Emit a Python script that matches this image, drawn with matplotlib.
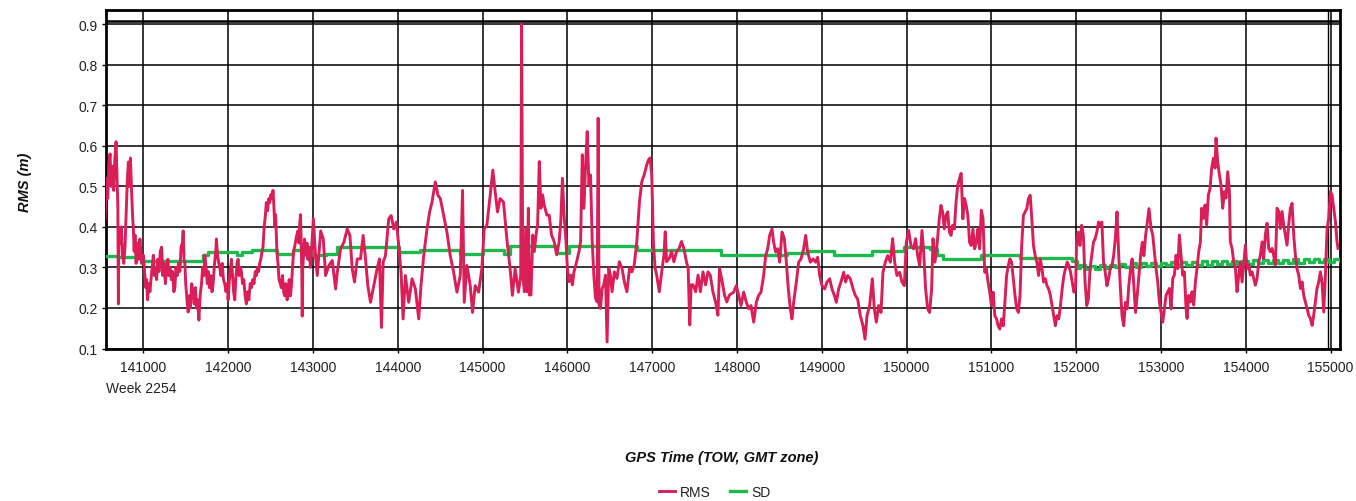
import matplotlib
matplotlib.use('Agg')
import matplotlib.pyplot as plt

plt.rcParams['font.family'] = ['Liberation Sans', 'DejaVu Sans']

# ---------------- data ----------------
rms_time = [
    140550, 140565, 140580, 140595, 140608, 140620, 140635, 140650, 140665, 140679,
    140690, 140700, 140706, 140712, 140725, 140740, 140755, 140770, 140784, 140800,
    140812, 140824, 140835, 140848, 140863, 140875, 140882, 140892, 140902, 140915,
    140930, 140945, 140960, 140980, 141000, 141015, 141030, 141039, 141050, 141065,
    141078, 141095, 141110, 141118, 141130, 141145, 141157, 141170, 141185, 141200,
    141216, 141230, 141245, 141260, 141274, 141290, 141300, 141314, 141330, 141345,
    141360, 141372, 141385, 141400, 141415, 141431, 141445, 141460, 141470, 141480,
    141490, 141500, 141515, 141529, 141540, 141555, 141570, 141588, 141600, 141615,
    141627, 141640, 141655, 141670, 141686, 141700, 141715, 141725, 141740, 141755,
    141764, 141780, 141795, 141810, 141823, 141840, 141855, 141862, 141875, 141890,
    141902, 141915, 141930, 141945, 141960, 141975, 141990, 142000, 142015, 142030,
    142039, 142055, 142065, 142078, 142090, 142105, 142118, 142130, 142145, 142156,
    142170, 142185, 142200, 142215, 142230, 142245, 142260, 142274, 142290, 142305,
    142320, 142333, 142345, 142360, 142372, 142385, 142400, 142411, 142425, 142440,
    142450, 142465, 142480, 142490, 142505, 142520, 142529, 142540, 142550, 142560,
    142575, 142588, 142600, 142615, 142627, 142640, 142655, 142666, 142680, 142695,
    142705, 142720, 142735, 142744, 142760, 142772, 142784, 142800, 142810, 142823,
    142835, 142845, 142854, 142862, 142868, 142874, 142880, 142895, 142901, 142915,
    142930, 142940, 142955, 142970, 142980,
    143005, 143030, 143051, 143091, 143122, 143149, 143189, 143228, 143267, 143287,
    143326, 143365, 143404, 143436, 143463, 143490, 143522, 143561, 143592, 143620,
    143647, 143679, 143718, 143757, 143784, 143808, 143828, 143855, 143894, 143922,
    143953, 143984, 144012, 144039, 144063, 144090, 144129, 144169, 144208, 144247,
    144274, 144306, 144345, 144376, 144404, 144443, 144474, 144502, 144541, 144580,
    144619, 144659, 144698, 144737, 144764, 144784, 144815, 144855, 144882, 144913,
    144953, 144992, 145019, 145051, 145090, 145121, 145149, 145176, 145207, 145247,
    145286, 145325, 145352, 145384, 145423, 145450, 145460,
    145474, 145493, 145513, 145524, 145540, 145552, 145571, 145591, 145610, 145630,
    145649, 145669, 145688, 145708, 145727, 145758, 145786, 145813, 145844, 145875,
    145903, 145922, 145942, 145961, 145984, 146000, 146020, 146039, 146059, 146078,
    146109, 146137, 146156, 146176, 146195, 146215, 146234, 146254, 146273, 146293,
    146312, 146332, 146351, 146363, 146374, 146390, 146410, 146429, 146449, 146468,
    146488, 146507, 146527, 146554, 146585, 146612, 146644, 146671, 146702, 146733,
    146761, 146788, 146819, 146850, 146878, 146905, 146936, 146956, 146975, 146995,
    147014, 147034, 147053, 147084, 147112, 147139, 147154, 147170, 147201, 147229,
    147256, 147287, 147318, 147346, 147373, 147404, 147424, 147443, 147459, 147482,
    147513, 147541, 147568, 147599, 147630, 147658, 147685, 147716, 147747, 147775,
    147794, 147825, 147853, 147880, 147911,
    147961, 147992, 148020, 148047, 148079, 148110, 148138, 148165, 148197, 148228,
    148255, 148283, 148314, 148338, 148362, 148385, 148413, 148432, 148456, 148479,
    148503, 148531, 148558, 148582, 148605, 148629, 148648, 148668, 148700, 148727,
    148755, 148786, 148810, 148833, 148865, 148896, 148927, 148951, 148975, 149002,
    149034, 149061, 149093, 149120, 149148, 149171, 149199, 149226, 149258, 149281,
    149305, 149336, 149368, 149395, 149423, 149454, 149486, 149509, 149533, 149564,
    149596, 149619, 149643, 149670, 149698, 149721, 149749, 149776, 149808, 149835,
    149859, 149886, 149918, 149945, 149973, 149996, 150024, 150051, 150083, 150106,
    150130, 150154, 150181, 150201, 150224, 150248, 150271, 150295, 150311, 150334,
    150358,
    150385, 150405, 150424, 150444, 150464, 150484, 150504, 150524, 150543, 150563,
    150583, 150603, 150623, 150643, 150663, 150682, 150702, 150722, 150742, 150762,
    150782, 150802, 150822, 150841, 150861, 150881, 150901, 150921, 150940, 150960,
    150980, 151000, 151020, 151040, 151060, 151079, 151099, 151119, 151139, 151159,
    151179, 151199, 151218, 151238, 151258, 151278, 151298, 151318, 151337, 151357,
    151377, 151397, 151417, 151437, 151457, 151476, 151496, 151516, 151536, 151556,
    151576, 151596, 151615, 151635, 151655, 151675, 151695, 151715, 151734, 151754,
    151774, 151794, 151814, 151834, 151854, 151873, 151893, 151913, 151933, 151953,
    151973, 151993, 152004, 152024, 152044, 152064, 152084, 152104, 152124, 152143,
    152163, 152183, 152203, 152223, 152243, 152263, 152282, 152302, 152322, 152342,
    152362, 152382, 152401, 152421, 152441, 152461, 152481, 152501, 152521, 152540,
    152560, 152580, 152600, 152620, 152640, 152659, 152679, 152699, 152719, 152739,
    152759, 152779, 152798, 152818, 152838, 152858,
    152882, 152902, 152921, 152941, 152961, 152980, 153000, 153020, 153039, 153059,
    153079, 153098, 153118, 153138, 153157, 153177, 153197, 153216, 153236, 153255,
    153275, 153295, 153307, 153326, 153346, 153365, 153385, 153405, 153424, 153444,
    153464, 153479, 153499, 153519, 153538, 153558, 153578, 153597, 153617, 153637,
    153648, 153668, 153688, 153707, 153727, 153747, 153766, 153786, 153806, 153817,
    153837, 153857, 153877, 153896, 153916, 153935, 153955, 153975, 153994, 154014,
    154034, 154053, 154073, 154093, 154112, 154132, 154152, 154171, 154191, 154210,
    154230, 154250, 154269, 154289, 154309, 154328, 154348, 154368, 154387, 154407,
    154427, 154446, 154466, 154485, 154505, 154525, 154545, 154564, 154584, 154603,
    154623, 154643, 154663, 154682, 154702, 154722, 154741, 154761, 154781, 154800,
    154820, 154839, 154859, 154879, 154898, 154918, 154938, 154958, 154977, 154997,
    155016, 155036, 155056, 155075, 155087,
]
rms_value = [
    0.42, 0.52, 0.47, 0.56, 0.58, 0.50, 0.55, 0.49, 0.57, 0.61,
    0.52, 0.45, 0.21, 0.38, 0.36, 0.40, 0.33, 0.31, 0.35, 0.45,
    0.52, 0.56, 0.50, 0.57, 0.48, 0.42, 0.40, 0.34, 0.38, 0.31,
    0.36, 0.32, 0.37, 0.31, 0.33, 0.29, 0.25, 0.27, 0.22, 0.26,
    0.24, 0.28, 0.31, 0.33, 0.28, 0.30, 0.27, 0.32, 0.29, 0.34,
    0.35, 0.28, 0.31, 0.26, 0.30, 0.32, 0.28, 0.30, 0.27, 0.29,
    0.24, 0.25, 0.30, 0.28, 0.31, 0.29, 0.35, 0.36, 0.39, 0.32,
    0.31, 0.26, 0.22, 0.19, 0.23, 0.20, 0.26, 0.24, 0.21, 0.25,
    0.20, 0.22, 0.17, 0.23, 0.26, 0.30, 0.28, 0.33, 0.30, 0.26,
    0.29, 0.25, 0.28, 0.24, 0.26, 0.31, 0.34, 0.37, 0.33, 0.31,
    0.30, 0.28, 0.31, 0.27, 0.26, 0.24, 0.26, 0.22, 0.27, 0.30,
    0.32, 0.27, 0.24, 0.22, 0.27, 0.31, 0.32, 0.28, 0.30, 0.29,
    0.26, 0.27, 0.23, 0.21, 0.24, 0.22, 0.26, 0.25, 0.27, 0.26,
    0.29, 0.28, 0.30, 0.29, 0.31, 0.32, 0.34, 0.35, 0.40, 0.43,
    0.46, 0.44, 0.47, 0.46, 0.48, 0.47, 0.49, 0.45, 0.40, 0.43,
    0.34, 0.31, 0.27, 0.26, 0.25, 0.28, 0.24, 0.23, 0.26, 0.22,
    0.23, 0.27, 0.23, 0.25, 0.30, 0.34, 0.35, 0.37, 0.38, 0.39,
    0.36, 0.41, 0.43, 0.36, 0.30, 0.18, 0.30, 0.35, 0.37, 0.33,
    0.36, 0.32, 0.35, 0.30, 0.33,
    0.42, 0.33, 0.28, 0.39, 0.37, 0.28, 0.305, 0.317, 0.247, 0.288,
    0.346, 0.362, 0.395, 0.379, 0.297, 0.264, 0.321, 0.321, 0.379, 0.321,
    0.255, 0.214, 0.255, 0.297, 0.321, 0.152, 0.313, 0.329, 0.420, 0.428,
    0.395, 0.412, 0.354, 0.288, 0.173, 0.280, 0.214, 0.272, 0.247, 0.173,
    0.255, 0.329, 0.395, 0.437, 0.461, 0.511, 0.478, 0.470, 0.428, 0.387,
    0.329, 0.288, 0.239, 0.280, 0.490, 0.214, 0.305, 0.255, 0.189, 0.255,
    0.239, 0.297, 0.395, 0.404, 0.478, 0.540, 0.486, 0.437, 0.470, 0.461,
    0.371, 0.297, 0.231, 0.297, 0.239, 0.280, 0.900,
    0.281, 0.240, 0.397, 0.240, 0.446, 0.232, 0.232, 0.380, 0.339, 0.380,
    0.405, 0.561, 0.446, 0.479, 0.454, 0.429, 0.429, 0.380, 0.364, 0.331,
    0.364, 0.413, 0.520, 0.429, 0.364, 0.298, 0.265, 0.281, 0.257, 0.289,
    0.314, 0.339, 0.364, 0.578, 0.446, 0.553, 0.635, 0.504, 0.528, 0.364,
    0.281, 0.224, 0.215, 0.668, 0.207, 0.199, 0.248, 0.257, 0.281, 0.116,
    0.298, 0.281, 0.240, 0.289, 0.273, 0.314, 0.298, 0.265, 0.240, 0.298,
    0.289, 0.306, 0.364, 0.462, 0.512, 0.528, 0.553, 0.565, 0.570, 0.528,
    0.364, 0.298, 0.281, 0.240, 0.289, 0.331, 0.388, 0.314, 0.322, 0.339,
    0.314, 0.339, 0.347, 0.364, 0.347, 0.314, 0.298, 0.158, 0.257, 0.257,
    0.240, 0.281, 0.240, 0.289, 0.257, 0.289, 0.281, 0.240, 0.215, 0.182,
    0.298, 0.265, 0.232, 0.215, 0.232,
    0.239, 0.255, 0.231, 0.206, 0.239, 0.214, 0.198, 0.206, 0.165, 0.214,
    0.231, 0.239, 0.280, 0.329, 0.346, 0.379, 0.395, 0.362, 0.338, 0.346,
    0.313, 0.387, 0.371, 0.313, 0.247, 0.198, 0.173, 0.214, 0.264, 0.313,
    0.321, 0.346, 0.379, 0.338, 0.313, 0.321, 0.313, 0.325, 0.280, 0.255,
    0.247, 0.264, 0.272, 0.247, 0.231, 0.214, 0.247, 0.264, 0.288, 0.264,
    0.280, 0.272, 0.247, 0.231, 0.222, 0.181, 0.156, 0.123, 0.181, 0.206,
    0.272, 0.198, 0.165, 0.206, 0.189, 0.288, 0.313, 0.329, 0.313, 0.371,
    0.313, 0.280, 0.288, 0.264, 0.255, 0.362, 0.391, 0.354, 0.346, 0.371,
    0.329, 0.305, 0.391, 0.338, 0.247, 0.198, 0.189, 0.247, 0.371, 0.313,
    0.354,
    0.420, 0.453, 0.437, 0.395, 0.428, 0.437, 0.387, 0.379, 0.404, 0.395,
    0.461, 0.503, 0.519, 0.532, 0.420, 0.470, 0.453, 0.428, 0.362, 0.354,
    0.395, 0.346, 0.362, 0.395, 0.346, 0.441, 0.420, 0.288, 0.297, 0.264,
    0.239, 0.206, 0.239, 0.181, 0.173, 0.156, 0.148, 0.173, 0.156, 0.214,
    0.280, 0.305, 0.321, 0.313, 0.272, 0.231, 0.198, 0.189, 0.231, 0.354,
    0.428, 0.437, 0.445, 0.470, 0.478, 0.420, 0.354, 0.329, 0.313, 0.280,
    0.321, 0.297, 0.264, 0.272, 0.255, 0.247, 0.231, 0.206, 0.181, 0.156,
    0.181, 0.173, 0.206, 0.247, 0.280, 0.297, 0.313, 0.305, 0.288, 0.264,
    0.239, 0.255, 0.362, 0.387, 0.354, 0.404, 0.379, 0.264, 0.206, 0.222,
    0.297, 0.329, 0.362, 0.371, 0.387, 0.412, 0.404, 0.412, 0.313, 0.288,
    0.255, 0.272, 0.297, 0.305, 0.329, 0.371, 0.437, 0.329, 0.247, 0.181,
    0.156, 0.214, 0.198, 0.255, 0.297, 0.321, 0.255, 0.189, 0.231, 0.280,
    0.329, 0.362, 0.329, 0.379, 0.412, 0.445,
    0.396, 0.380, 0.339, 0.297, 0.264, 0.215, 0.190, 0.165, 0.198, 0.231,
    0.240, 0.248, 0.198, 0.273, 0.281, 0.330, 0.297, 0.380, 0.330, 0.281,
    0.289, 0.198, 0.174, 0.231, 0.215, 0.240, 0.207, 0.264, 0.297, 0.339,
    0.363, 0.446, 0.421, 0.454, 0.405, 0.479, 0.495, 0.545, 0.569, 0.545,
    0.619, 0.561, 0.528, 0.504, 0.446, 0.487, 0.471, 0.536, 0.487, 0.363,
    0.347, 0.314, 0.297, 0.240, 0.281, 0.314, 0.264, 0.306, 0.355, 0.297,
    0.306, 0.281, 0.289, 0.273, 0.256, 0.273, 0.314, 0.330, 0.363, 0.322,
    0.380, 0.409, 0.347, 0.339, 0.347, 0.330, 0.306, 0.446, 0.438, 0.396,
    0.438, 0.405, 0.380, 0.355, 0.405, 0.446, 0.458, 0.380, 0.330, 0.297,
    0.281, 0.248, 0.264, 0.231, 0.215, 0.198, 0.182, 0.174, 0.157, 0.182,
    0.215, 0.248, 0.264, 0.289, 0.264, 0.190, 0.281, 0.396, 0.421, 0.487,
    0.479, 0.446, 0.413, 0.363, 0.347,
]

sd_time = [
    140560, 140700, 141000, 141700, 141760, 142100, 142160, 142280, 142580, 142760,
    143000, 143150, 143287, 144012, 144267, 144737, 145011, 145247, 145325, 145864,
    146020, 146819, 147814, 148590, 148825, 149140, 149592, 149965, 150279, 150358,
    150424, 150881, 151337, 151953, 152012,
    152040, 152100, 152160, 152220, 152280, 152340, 152400, 152460, 152520, 152580,
    152640, 152700, 152760, 152820, 152880, 152940, 153000, 153060, 153120, 153180,
    153240, 153300, 153360, 153420, 153480, 153540, 153600, 153660, 153720, 153780,
    153840, 153900, 153960, 154020, 154080, 154140, 154200, 154260, 154320, 154380,
    154440, 154500, 154560, 154620, 154680, 154740, 154800, 154860, 154920, 154980,
    155040, 155110,
]
sd_value = [
    0.329, 0.325, 0.317, 0.330, 0.339, 0.331, 0.338, 0.342, 0.334, 0.342,
    0.330, 0.334, 0.350, 0.338, 0.342, 0.334, 0.342, 0.334, 0.352, 0.335,
    0.354, 0.343, 0.331, 0.335, 0.341, 0.331, 0.341, 0.350, 0.345, 0.331,
    0.321, 0.330, 0.323, 0.315, 0.298,
    0.306, 0.296, 0.304, 0.297, 0.305, 0.298, 0.307, 0.300, 0.309, 0.302,
    0.310, 0.302, 0.311, 0.303, 0.312, 0.304, 0.312, 0.305, 0.313, 0.305,
    0.314, 0.306, 0.314, 0.306, 0.315, 0.307, 0.316, 0.308, 0.316, 0.308,
    0.317, 0.309, 0.317, 0.309, 0.318, 0.310, 0.318, 0.310, 0.319, 0.311,
    0.319, 0.311, 0.320, 0.312, 0.320, 0.313, 0.321, 0.313, 0.321, 0.314,
    0.322, 0.315,
]

x_ticks = list(range(141000, 155001, 1000))
y_ticks = [0.1, 0.2, 0.3, 0.4, 0.5, 0.6, 0.7, 0.8, 0.9]
x_limits = (140560, 155110)
y_limits = (0.1, 0.935)
max_line_value = 0.908
end_marker_time = 154972
week_label = 'Week 2254'
x_label = 'GPS Time (TOW, GMT zone)'
y_label = 'RMS (m)'
series_names = ['RMS', 'SD']

RED = '#DA1E58'
GREEN = '#1EB84E'

# ---------------- figure ----------------
W, H = 1356, 502
fig = plt.figure(figsize=(W / 100, H / 100), dpi=100)
ax = fig.add_axes([106 / W, 1 - 349.5 / H, 1234 / W, 338.5 / H])

ax.set_xlim(*x_limits)
ax.set_ylim(*y_limits)
ax.set_xticks(x_ticks)
ax.set_xticklabels([str(t) for t in x_ticks])
ax.set_yticks(y_ticks)
ax.set_yticklabels([f'{v:.1f}' for v in y_ticks])

ax.grid(True, color='black', linewidth=1.1)
ax.set_axisbelow(True)
ax.axhline(max_line_value, color='black', linewidth=1.8, zorder=2)
ax.axvline(end_marker_time, color='black', linewidth=1.0, zorder=2)

ln_sd, = ax.plot(sd_time, sd_value, color=GREEN, linewidth=2.4,
                 drawstyle='steps-post', zorder=3, label=series_names[1])
ln_rms, = ax.plot(rms_time, rms_value, color=RED, linewidth=2.1,
                  zorder=4, label=series_names[0])

for s in ax.spines.values():
    s.set_linewidth(2.0)
    s.set_color('black')

ax.tick_params(axis='both', direction='out', length=3, width=1,
               labelsize=10, labelcolor='#222222')
ax.tick_params(axis='x', pad=5)
ax.tick_params(axis='y', pad=3)

ax.text(0.0, -39.5 / 338.5, week_label, transform=ax.transAxes,
        ha='left', va='center', fontsize=10, color='#222222')

fig.text(25 / W, 1 - 182 / H, y_label, rotation=90, ha='center', va='center',
         fontsize=10.5, fontweight='bold', fontstyle='italic', color='#111111')
fig.text(722 / W, 1 - 458 / H, x_label, ha='center', va='center',
         fontsize=10.5, fontweight='bold', fontstyle='italic', color='#111111')

fig.legend(handles=[ln_rms, ln_sd], labels=series_names, loc='center',
           bbox_to_anchor=(715 / W, 1 - 493 / H), ncol=2, frameon=False,
           fontsize=10, handlelength=1.1, handletextpad=0.4,
           columnspacing=1.4, labelcolor='#222222')

fig.savefig('out.png', dpi=100)
